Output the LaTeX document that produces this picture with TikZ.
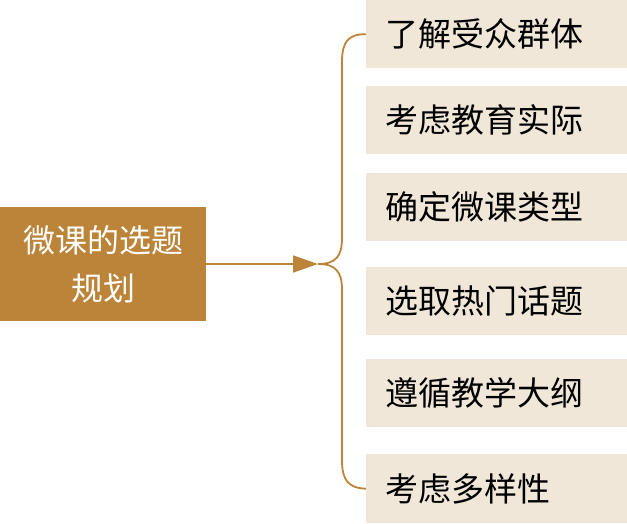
\documentclass[tikz,border=0pt]{standalone}
\usepackage{fontspec}
\newfontfamily\cjk{Noto Sans CJK SC}
\usetikzlibrary{arrows.meta}
\definecolor{brownc}{HTML}{BC8439}
\definecolor{beigec}{HTML}{F1E7D9}
\begin{document}
\begin{tikzpicture}[x=1pt,y=-1pt,
  itembox/.style={fill=beigec,draw=none,minimum width=261pt,minimum height=68pt,anchor=north west,inner xsep=19pt,inner ysep=0pt,text width=223pt,align=left,font=\cjk\fontsize{33}{33}\selectfont,text=black},
  mainbox/.style={fill=brownc,draw=none,minimum width=206pt,minimum height=114pt,anchor=north west,inner sep=0pt,align=center,font=\cjk\fontsize{32}{48}\selectfont,text=white},
  conn/.style={draw=brownc,line width=1.8pt}]
\useasboundingbox (0,0) rectangle (627,523);
\node[mainbox] (main) at (0,207) {微课的选题\\规划};
\node[itembox] (b1) at (366,0) {了解受众群体};
\node[itembox] (b2) at (366,86) {考虑教育实际};
\node[itembox] (b3) at (366,173) {确定微课类型};
\node[itembox] (b4) at (366,267) {选取热门话题};
\node[itembox] (b5) at (366,359) {遵循教学大纲};
\node[itembox,minimum height=69pt] (b6) at (366,454) {考虑多样性};
\coordinate (tip) at (318,264);
\draw[conn,-{Triangle[length=25pt,width=17pt]}] (main.east |- tip) -- (tip);
\draw[conn] (b1.west) .. controls (348,34) and (342,42) .. (342,62) -- (342,238) .. controls (342,256) and (336,264) .. (tip);
\draw[conn] (b6.west) .. controls (348,488) and (342,480) .. (342,460) -- (342,290) .. controls (342,272) and (336,264) .. (tip);
\end{tikzpicture}
\end{document}
